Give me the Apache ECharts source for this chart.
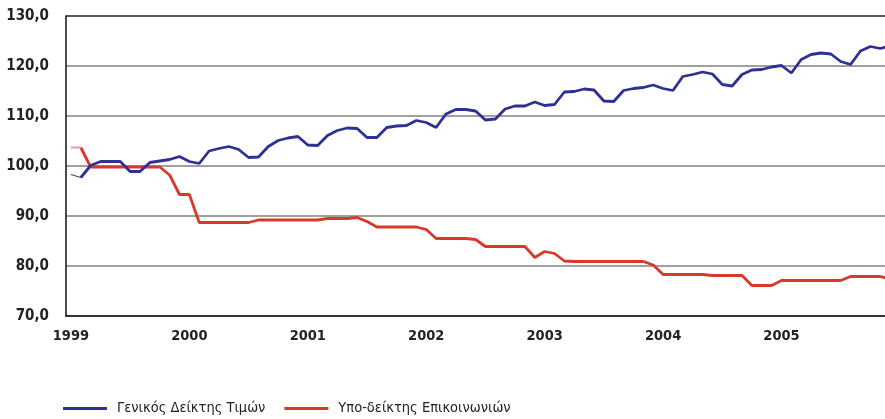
<!DOCTYPE html>
<html>
<head>
<meta charset="utf-8">
<script src="https://cdn.jsdelivr.net/npm/echarts@6/dist/echarts.min.js"></script>
<style>
  html, body { margin: 0; padding: 0; background: #fff; }
  #chart { width: 885px; height: 419px; }
</style>
</head>
<body>
<div id="chart"></div>
<script>
// monthly, Jan 1999 .. Dec 2005
const years = ["1999", "2000", "2001", "2002", "2003", "2004", "2005"];
const categories = [];
years.forEach((y) => {
	for (let m = 1; m <= 12; m++) categories.push(y + "-" + String(m).padStart(2, "0"));
});

const seriesNames = ["Γενικός Δείκτης Τιμών", "Υπο-δείκτης Επικοινωνιών"];

const generalIndex = [
	98.3, 97.7, 100.1, 100.9, 100.9, 100.9, 98.9, 98.9, 100.7, 101.0, 101.3, 101.9,
	100.9, 100.5, 103.0, 103.5, 103.9, 103.3, 101.7, 101.8, 103.9, 105.1, 105.6, 105.9,
	104.2, 104.1, 106.1, 107.1, 107.6, 107.5, 105.7, 105.7, 107.7, 108.0, 108.1, 109.1,
	108.7, 107.7, 110.4, 111.3, 111.3, 111.0, 109.2, 109.4, 111.4, 112.0, 112.0, 112.8,
	112.1, 112.3, 114.8, 114.9, 115.4, 115.2, 113.0, 112.9, 115.1, 115.5, 115.7, 116.2,
	115.5, 115.1, 117.9, 118.3, 118.8, 118.4, 116.3, 116.0, 118.3, 119.2, 119.3, 119.8,
	120.1, 118.6, 121.3, 122.3, 122.6, 122.4, 120.9, 120.3, 123.0, 123.9, 123.5, 124.0,
];

const commIndex = [
	103.7, 103.7, 99.8, 99.8, 99.8, 99.8, 99.8, 99.8, 99.8, 99.8, 98.2, 94.3,
	94.3, 88.7, 88.7, 88.7, 88.7, 88.7, 88.7, 89.2, 89.2, 89.2, 89.2, 89.2,
	89.2, 89.2, 89.5, 89.5, 89.5, 89.7, 88.9, 87.8, 87.8, 87.8, 87.8, 87.8,
	87.3, 85.5, 85.5, 85.5, 85.5, 85.3, 83.9, 83.9, 83.9, 83.9, 83.9, 81.7,
	82.9, 82.5, 81.0, 80.9, 80.9, 80.9, 80.9, 80.9, 80.9, 80.9, 80.9, 80.2,
	78.3, 78.3, 78.3, 78.3, 78.3, 78.1, 78.1, 78.1, 78.1, 76.1, 76.1, 76.1,
	77.1, 77.1, 77.1, 77.1, 77.1, 77.1, 77.1, 77.9, 77.9, 77.9, 77.9, 77.4,
];

const yTicks = [70, 80, 90, 100, 110, 120, 130];

const blue = "#2e3192";
const red = "#d9392b";
const narrow = "'Liberation Sans Narrow', 'DejaVu Sans Condensed', sans-serif";

// the first month is drawn as a thin lead-in segment
const leadIn = (arr) => arr.map((v, i) => (i < 2 ? v : "-"));
const mainPart = (arr) => arr.map((v, i) => (i === 0 ? "-" : v));

const chart = echarts.init(document.getElementById("chart"));

const option = {
	animation: false,
	grid: {
		left: 66,
		top: 16,
		width: 829,
		height: 300,
		containLabel: false,
		outerBoundsMode: "none",
	},
	legend: {
		data: seriesNames,
		left: 63,
		top: 401,
		padding: 0,
		icon: "rect",
		itemWidth: 44,
		itemHeight: 3,
		itemGap: 19,
		textStyle: {
			fontFamily: narrow,
			fontSize: 14.5,
			color: "#222",
			padding: [0, 0, 0, 5],
		},
	},
	xAxis: {
		type: "category",
		data: categories,
		boundaryGap: true,
		axisLine: { lineStyle: { color: "#111", width: 1.5 } },
		axisTick: {
			interval: 0,
			length: 4,
			lineStyle: { color: "#333", width: 1 },
		},
		axisLabel: {
			interval: (idx) => idx % 12 === 0,
			formatter: (v) => v.slice(0, 4),
			fontFamily: narrow,
			fontWeight: "bold",
			fontSize: 14.5,
			color: "#222",
			margin: 13,
		},
		splitLine: { show: false },
	},
	yAxis: {
		type: "value",
		min: yTicks[0],
		max: yTicks[yTicks.length - 1],
		interval: 10,
		axisLine: { show: true, lineStyle: { color: "#111", width: 1.5 } },
		axisTick: { show: false },
		axisLabel: {
			formatter: (v) => v.toFixed(1).replace(".", ","),
			fontFamily: narrow,
			fontWeight: "bold",
			fontSize: 15,
			color: "#222",
			margin: 17,
		},
		splitLine: {
			lineStyle: {
				color: ["#808080", "#808080", "#808080", "#808080", "#808080", "#808080", "#222"],
				width: 1.5,
			},
		},
	},
	series: [
		{
			name: seriesNames[0],
			type: "line",
			data: mainPart(generalIndex),
			symbol: "none",
			lineStyle: { color: blue, width: 2.8 },
			itemStyle: { color: blue },
			z: 3,
		},
		{
			name: seriesNames[1],
			type: "line",
			data: mainPart(commIndex),
			symbol: "none",
			lineStyle: { color: red, width: 2.8 },
			itemStyle: { color: red },
			z: 2,
		},
		{
			name: "lead-blue",
			type: "line",
			data: leadIn(generalIndex),
			symbol: "none",
			lineStyle: { color: blue, width: 1 },
			z: 3,
		},
		{
			name: "lead-red",
			type: "line",
			data: leadIn(commIndex),
			symbol: "none",
			lineStyle: { color: "#ee9a94", width: 2 },
			z: 2,
		},
	],
};

chart.setOption(option);
</script>
</body>
</html>
